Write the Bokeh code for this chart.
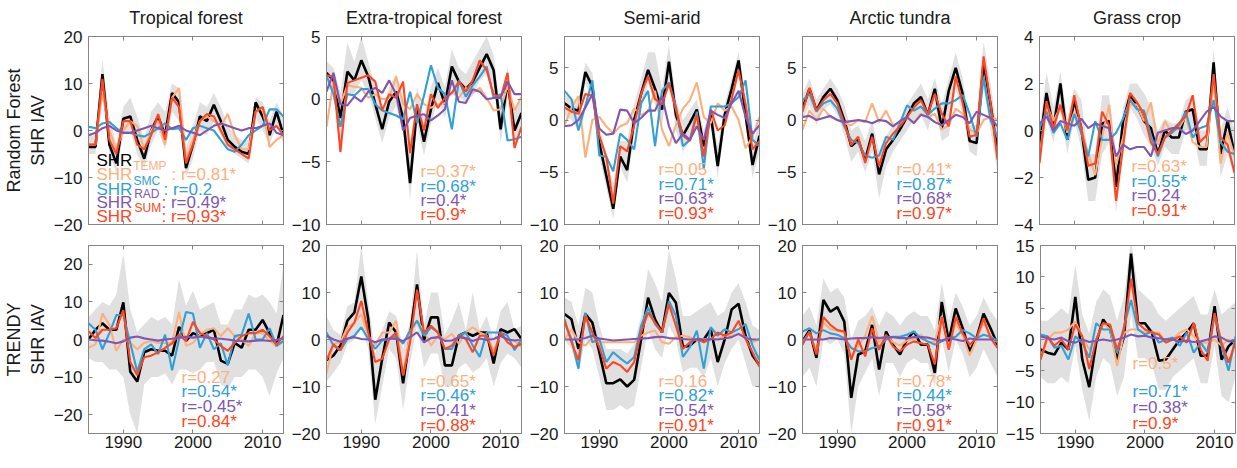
from bokeh.plotting import figure
from bokeh.layouts import row, column
from bokeh.models import LinearAxis, Label, FixedTicker, Range1d, CustomLabelingPolicy
from bokeh.embed import file_html
from bokeh.resources import INLINE

years = list(range(1985, 2014))
titles = ["Tropical forest", "Extra-tropical forest", "Semi-arid", "Arctic tundra", "Grass crop"]
row_labels = ["Random Forest\nSHR IAV", "TRENDY\nSHR IAV"]
x_ticks = [1990, 2000, 2010]

# ---------------- Random Forest row ----------------
rf_trop_shr = [-3.5, -3.5, 12, -3, -7, 2.5, 3, -2, -6, 0, 3, -1, 8, 6, -8, -3, 3, 2, 5.5, 2, -2, -3.5, -4.5, -5, 6, 3, -1, 4, -1]
rf_trop_temp = [-3, -3, 8, 0, -4, 0, 2, 1, -4, 0, 2, -3, 7, 9, -6, -2, 2, 3, 2, 1, 3.5, -1, -4, -4, 4, 5, -3.5, -2, -1]
rf_trop_smc = [0.8, 0.5, 1.5, 1.8, 0.5, -0.5, -0.5, -1, -1.3, -0.5, 0.5, 1.5, 0.3, 0.5, -2, 0.5, 1, 0.5, 0, -2, -4, -4.5, -3, -1, 0, 1, 4.5, 4.5, 3]
rf_trop_rad = [-1, -0.5, 0.5, 1, 0, -0.5, -0.5, 0, 0.5, 1, 0.5, 0, 0.5, 1, 0, -0.5, -1, 0, 1, 1.5, 1, 0.5, 0, 0.5, 0.5, 1, 1.5, -0.5, -1]
rf_trop_sum = [-3, -3, 11, -2, -5, 2, 2, -3, -4, -1, 3.5, -2, 7, 5, -7, -3, 2, 3.5, 3, 0, -3, -4, -5, -6, 4, 5, 0, 1, -1]
rf_trop_hi = [-1, -1, 15, 3, -3, 5, 7, 3, -2, 4, 6, 4, 10, 9, -4, 1, 6, 5, 8, 5, 1, -1, -2, -2, 7, 6, 2, 6, 3]
rf_trop_lo = [-5, -5, 9, -5, -9, -1, 0, -5, -8, -3, 0, -4, 4, 2, -10, -6, 0, -1, 2, -1, -4, -5, -6, -7, 3, 0, -3, 1, -3]

rf_extr_shr = [2.1, 1.5, -1.5, 2.2, 1.5, 3.1, 1.8, -0.4, -2.4, -0.2, 0.6, -1.5, -6.7, -0.7, -3.4, -0.8, 1.3, -0.4, 2.6, 1.4, 0.8, 1.4, 2.5, 3.6, 2.3, -2.4, 1.4, -2.5, -1.1]
rf_extr_temp = [-2.2, 1.4, -0.4, 1.1, 1.0, 0.9, 0.1, 0.4, 0, 0.1, 1.8, -0.4, -0.8, 0.4, -0.4, -0.7, -0.4, -0.3, 0.6, 0.1, 0.9, 0.5, 0.9, 0.1, -0.9, -0.8, 1.1, -0.9, 0.2]
rf_extr_smc = [1.9, 0.4, -2.2, 0.4, 0.3, 0.8, 0.8, -0.4, -0.9, -1.1, -1.3, -1.6, 0.6, -1.9, 0.3, 2.7, 0.9, 0.4, -2.4, 1.5, 0.2, 1.1, 1.8, 2.6, 0.1, 0.4, -3.3, -3.2, -3.0]
rf_extr_rad = [0.6, 2.1, -0.4, -0.5, 0.2, -0.2, 0.6, 0.9, 0.5, 1.5, 0.4, -2.5, -1.5, -1.3, -1.2, -1.7, -1.3, -0.8, 1.5, -0.2, -0.3, 0.8, 0.6, 0, 0.1, 0.1, 1.4, 0.4, 0.4]
rf_extr_sum = [1.9, 1.8, -4.2, 1.3, 1.5, 1.7, 1.9, 1.4, -0.9, 0.4, 0.1, 1.4, -4.3, -0.4, -2.5, 0.4, -0.7, 0.1, 0.5, 1.4, 0.6, 1.5, 3.1, 2.3, 0.4, 0.1, 2.1, -3.9, -2.2]
rf_extr_hi = [3, 2.5, 0.5, 4.5, 3, 5, 3, 1, -1, 1, 2, 0, -4, 1, -1.5, 1, 2.5, 1, 4, 2.5, 2, 3, 4, 5, 3.5, -1, 2.5, -1, 0]
rf_extr_lo = [1, 0.5, -4.5, 0.5, 0.5, 1.5, 0.5, -1.5, -3.5, -1.5, -0.5, -2.5, -8, -2, -4.5, -2, 0, -1.5, 1.5, 0.3, -0.3, 0.3, 1.5, 2, 1, -3.5, 0, -4, -2.5]

rf_semi_shr = [1.6, 1.1, 0.9, 4.6, 3.2, -2.2, -5.3, -8.5, -3.5, -4.8, 0, 2.5, 4.8, 3, 1, 5.6, 0.5, -1.5, -0.3, 1, -2.5, 0.5, -4.4, 0.5, 3, 5.7, 0.5, -4.3, -1.5]
rf_semi_temp = [-0.5, 1.2, 2.3, -3.6, 0, 0.3, -0.6, -1.3, -0.6, -0.3, 1.1, 0.5, 0.8, 2.8, -0.9, -2.5, -0.5, 1.1, 1.9, 3.6, 0.3, -0.3, 1.6, 0.9, 1.3, 0, -2.7, -1.6, 0.3]
rf_semi_smc = [2.8, 2.0, -1.0, 1.4, 3.8, -3.4, -3.5, -4.9, -1.3, -1.9, -2.8, 1.6, 2.8, -2.5, 2.8, 3.6, 1.3, -2.5, -1.9, 0.8, -4.7, 1.3, 1.3, 1.3, 1.6, 2.2, 3.8, -1.9, -2.5]
rf_semi_rad = [-0.6, -0.5, 0, 1.2, 2.5, -0.8, -1.4, -1.3, 1.0, 0.9, -0.3, 0.2, 0.9, 0.9, 2.3, -0.6, -2.2, -1.3, -1.9, -0.6, -1.9, 0.9, 0.5, 0.2, 1.6, 2.8, 0.3, -1.3, -0.5]
rf_semi_sum = [1.2, 0.8, 0.6, 2.5, 2.3, -1.5, -3.5, -8, -2.5, -3, -0.5, 2.5, 4.2, 2, 1.5, 3.5, 1, -1.5, -2, 0.5, -3.5, 1, -1, -0.5, 2, 4.8, 1.5, -2.8, -2]
rf_semi_hi = [2.5, 2, 2, 5.5, 4.5, -0.5, -3.5, -6, -2, -2, 1.5, 4, 6.5, 6.5, 3, 7.2, 2, 0, 1, 2, -1, 1.5, -2.5, 1.5, 4, 6.5, 2.5, -2.5, 0]
rf_semi_lo = [0.5, 0, -1, 3.5, 2, -3.5, -6.5, -9.5, -4.5, -6, -1.5, 1, 3.5, 1.5, -0.5, 4, -1, -3, -2, -0.5, -4.5, -0.5, -5.5, -0.5, 1.5, 4.5, -0.5, -5.5, -3]

rf_tund_shr = [1.1, 3.0, 0.9, 2.2, 3.0, 1.9, 0, -2.5, -1.9, -3.8, -1.3, -5.2, -2.8, -1.9, -0.9, 0.3, 1.6, 2.2, 0.5, 3.0, -0.8, 2.8, 5.0, 2.5, -2.0, -2.2, 5.5, 1.5, -3.0]
rf_tund_temp = [-0.9, 0.9, 0, 1.1, 0.3, 0, -0.3, -0.5, 0, -0.2, 1.6, -0.2, 0.9, -0.5, -0.2, 0.2, -0.2, 0.6, 0.3, 0.6, -0.9, -0.5, 1.1, 0.6, -0.9, -1.3, 0, 0.3, 0]
rf_tund_smc = [1.9, 2.5, 0.8, 1.6, 1.9, 1.1, -0.6, -1.9, -2.2, -3.4, -3.6, -3.4, -1.6, -1.9, -0.3, 1.4, 0.9, 1.3, 0.5, 1.1, 1.6, 1.6, 1.9, 2.4, 0.6, -1.6, 4.1, 0, -1.6]
rf_tund_rad = [0.3, 0.4, 0, 0.2, 0.4, 0, -0.2, -0.1, 0, -0.1, -0.3, 0, -0.1, -0.6, -0.1, 0.3, -0.3, 0.5, 0.3, -0.2, -0.5, 0, 0.5, 0.3, -0.3, 0.8, 0.5, 0.2, -0.6]
rf_tund_sum = [0.8, 3.1, 0.9, 1.9, 2.5, 1.6, -0.3, -2.4, -1.6, -4.1, -1.6, -4.4, -2.2, -1.3, -0.6, 0.3, 1.2, 1.9, 0.6, 2.5, 0.6, -0.6, 4.2, 1.6, -1.6, -1.4, 6.1, 1.6, -3.8]
rf_tund_hi = [2.5, 4, 2, 3, 4, 3, 1.5, -1, -0.5, -2, 0, -3, -1.5, -0.5, 0, 1.5, 2.5, 3.5, 2, 4, 1.5, 4, 6.5, 4, -0.5, -0.5, 7.5, 3.5, -1]
rf_tund_lo = [0, 1.5, -0.5, 1, 1.5, 0.5, -1.5, -4, -3, -5, -3, -7.5, -4.5, -3, -2, -1, 0, 0.5, -1, 1.5, -2, -1.5, 3, 0.5, -3, -3.5, 3, -1, -5]

rf_gras_shr = [-0.7, 1.6, 0.1, 2.0, -0.4, 1.3, 0.1, -2.1, -2.0, 0.3, 0.4, -2.4, 0.4, 1.5, 1.1, 0.4, 0.1, -1.0, 0, -0.3, -0.3, 0.8, 0.9, -0.8, -0.8, 2.9, -1.0, 0.4, -1.0]
rf_gras_temp = [-1.1, 1.1, 0.4, 1.0, -0.1, 0.8, 0.1, -1.0, -1.9, -0.3, 1.1, -1.5, -0.3, 1.1, 1.1, 0.4, 1.2, -0.6, 0.4, -0.1, 0.1, 0.6, -0.5, -0.7, -0.7, 2.1, -1.4, -0.1, -1.1]
rf_gras_smc = [0.1, 0.8, -0.1, 0.3, -0.4, 0.7, -0.1, -1.1, 0.4, -0.4, -0.4, -0.1, 0.5, 1.3, 0.9, 0.85, -0.2, -1.1, -0.3, -0.1, 0.2, 0.8, -0.3, 0.1, 0.2, 1.3, -0.5, -0.9, -1.0]
rf_gras_rad = [0.3, 0.6, 0, 0.4, 0.3, 0.2, 0.5, 0.1, 0.3, 0.2, 0.1, -1.1, -0.6, -0.8, -0.7, -0.7, -1.1, -0.1, 0, 0.1, 0.1, -0.15, 0, 0.4, 0.8, 1.0, 0.6, 0.4, 0.4]
rf_gras_sum = [-1.4, 1.25, 0.1, 1.1, 0, 1.5, 0.1, -1.5, -1.4, 0.8, 0.2, -3.0, -0.7, 1.6, 1.2, 0.7, -0.5, -1.0, -0.3, 0, 0.3, 0.6, 1.5, -0.5, -0.2, 2.4, -0.3, -0.6, -1.8]
rf_gras_hi = [0, 2.5, 1, 2.5, 0.5, 1.8, 1.3, -1, -1, 1.5, 1.5, -1.5, 1, 2, 2, 1.6, 1, 0, 0.5, 0.3, 0.3, 1.3, 1.5, 0, 0, 3.5, 0, 1, 0]
rf_gras_lo = [-1.5, 0.5, -0.5, 1, -1, 0.5, -0.8, -3, -3, -1, -0.5, -3.5, -0.5, 1, 0.5, -0.2, -0.7, -1.5, -0.7, -1, -1, 0, 0, -1.5, -1.5, 2, -2, -1, -2]

# ---------------- TRENDY row ----------------
tr_trop_shr = [0, 2.6, 4.3, 2.6, 2.6, 9.9, -8.6, -11.2, -3.4, -2.6, -3, -3, -4.3, 3.4, -0.4, 1.7, 0.9, 1.7, 2.6, -5.6, -6.5, -0.9, -2.2, 2.6, 2.6, 5.2, 1.7, -1.7, 6.5]
tr_trop_temp = [-2.2, -1.3, 6.9, 3.9, -3, 0, -0.9, -2.6, -0.9, -0.4, -0.9, -0.9, -0.9, 7.3, -1.7, -0.9, 1.3, 2.6, 3, 0.9, 3, 0.9, 0, -1.7, 1.7, 1.7, -0.4, -1.7, 0]
tr_trop_smc = [4.3, 2.6, -2.6, 1.7, 6.5, 6.5, -0.9, -8.6, -2.6, -1.3, -3.9, 1.3, -8.2, 0, 7.3, 6.9, -2.2, 1.7, -2.6, -1, -6.9, 0.9, 1.3, 6.9, 0, 0, 3, -1.7, -0.4]
tr_trop_rad = [0, -0.2, -0.3, -0.6, -1, -0.5, 0.5, 0.8, 0.3, 0, -0.3, 0, 0.2, 0.5, 0.7, 0.5, 0.8, 0.5, 0.3, 0.2, 0, -0.3, -0.4, -0.5, -0.3, -0.2, -0.4, -0.1, 0.3]
tr_trop_sum = [2.2, 0.4, 2.6, 2.6, 3, 7.8, -6, -9.5, -4.7, -4.3, -3.4, -2.2, -1, 1.3, -0.4, 4.7, 1.7, 0.9, 0, -1.7, -3, -0.9, 0.9, 1.7, 1.7, 2.6, 0.9, -1.3, 0.9]
tr_trop_hi = [6, 8, 10, 9, 12, 23, 8, 2, 4, 6, 5, 6, 4, 16, 9, 13, 8, 9, 10, 4, 4, 8, 8, 12, 11, 12, 10, 7, 20]
tr_trop_lo = [-5, -6, -6, -8, -8, -10, -20, -25, -12, -10, -10, -9, -12, -8, -8, -9, -8, -6, -6, -12, -13, -10, -10, -8, -8, -10, -15, -9, -5]

tr_extr_shr = [-4.4, -3.4, -1.3, 4, 5.7, 13.4, 4.3, -12.8, -4.1, 3.6, 1.5, -9.3, 0.8, 11.7, -0.2, 4.7, 4.7, -5.5, -5.5, 0.8, 1.5, 0.8, 1.5, 1.5, -5.1, 2.2, 1.5, 2.2, 0.1]
tr_extr_temp = [-7.2, -0.9, -0.6, 2.6, 3.6, 5.4, 0.8, -1.3, 1.5, 1.5, 4, -7.6, 1.2, 4, 1.9, -1.3, 0.8, 0.1, 1.2, -0.9, 1.5, 2.6, 1.5, 0.8, -2.3, 0.8, 0.1, -0.2, -1.6]
tr_extr_smc = [1.5, -1.3, -2.3, 0.1, 0.8, 2.6, 0.1, -2, -0.2, 0.1, 0.8, -0.9, 1.9, 4, 0.8, 2.6, 1.5, -2, -2, 0.8, 1.5, -1.3, -3.7, 1.5, 1.5, 1.5, 0.8, -2.3, 0.1]
tr_extr_rad = [0.8, 0, -0.5, 0.2, 0.5, 0.1, 0, -0.6, 0, 0.2, 0.1, -0.3, 0.5, 1.5, -0.6, 0.3, 0.5, -0.3, -0.2, 0.5, 0.3, -0.3, 0.2, -0.1, 0.1, 0.8, 0, -0.2, 0]
tr_extr_sum = [-4.4, -1, -2.3, 1.5, 3.6, 8.2, 1.5, -4.8, -4.1, 0.1, 1.5, -7.6, -0.6, 10.6, 1.5, 2.9, 1.5, -2, -1.3, 0.8, 0.1, -2.7, 0.8, 0.8, -3.4, 1.5, -0.6, -1.6, -0.9]
tr_extr_hi = [5, 2, 1, 7, 8, 20, 8, -3, 2, 6, 5, -2, 4, 19, 3, 10, 10, 1, 4, 8, 2, 10, 2, 5, 0, 6, 8, 2, 3]
tr_extr_lo = [-9, -7, -5, -1, 0, 3, -2, -18, -10, -2, -4, -15, -5, 3, -6, -3, -3, -10, -10, -6, -5, -7, -6, -4, -10, -5, -3, -4, -6]

tr_semi_shr = [5.4, 4.3, -2, 5.4, 3.6, -2.7, -9.3, -9.3, -8.5, -10, -8.6, 0, 8.9, 4.3, 1.5, 9.9, 7.8, -1.6, -1.3, 0, 0, 2.2, -4.8, 0, 6.4, 7.6, 0.8, -3.4, -5.5]
tr_semi_temp = [0.1, 2.2, -0.6, -1.3, 0.5, -0.6, -0.6, -0.6, -0.6, -0.6, -0.6, 0.8, 1.5, 1.9, -0.6, -0.9, 0.5, 0.8, 0.5, -0.2, 0.1, 0.1, 0.1, 0.8, 0.8, 1.2, 0.5, -0.6, 0.1]
tr_semi_smc = [3.6, 0.1, -6.2, 5.7, -0.6, 0.1, -4.8, -2.7, -4, -5.1, -3.7, 2.9, 6.8, 3.3, 1.5, 8.2, 5, -3.7, -1.6, 1.9, -6.2, 2.6, 0.8, 2.2, 1.5, 2.2, 3.3, -1.3, -4.4]
tr_semi_rad = [0, 0, 0, 0.3, 0.8, 0.2, 0, -0.2, -0.1, 0, 0.1, 0.2, 0.3, 0.5, 0.6, 0.3, 0.2, 0.1, 0, 0, 0, 0.1, 0, 0.2, 0.5, 1.2, 0.3, 0, 0]
tr_semi_sum = [4.3, -0.6, -4.4, 5, 1.5, -1.6, -6.2, -4.8, -5.5, -6.9, -4.8, 1.5, 5.7, 3.6, 1.5, 7.5, 2.9, -2, -0.6, 0.1, -0.6, 0.1, 1.5, 0.8, 1.5, 4, 0.1, -2.7, -5.8]
tr_semi_hi = [9, 8, 3, 11, 10, 3, -2, -2, -2, -3, -1, 5, 15, 12, 8, 19, 13, 5, 5, 6, 7, 8, 5, 6, 10, 12, 8, 3, 2]
tr_semi_lo = [0, -2, -7, 0, -2, -8, -15, -15, -14, -15, -14, -6, 2, -2, -4, 3, 0, -7, -6, -6, -8, -4, -10, -5, -2, 0, -5, -10, -10]

tr_tund_shr = [-0.4, 2.0, -3.9, 8.4, 5.9, 6.9, 3.8, -12.4, -3.2, -2.5, 3.1, -6.4, 1.7, -1.1, -3.2, 0, 1.7, -1.1, -1.1, -7.1, 8.0, -0.4, 6.6, 2.4, -2.5, 0.3, 5.5, 2.4, -1.1]
tr_tund_temp = [-0.6, 1.5, -2.7, 3.6, 2.2, 1.9, 1.5, -4, -1.3, 0.8, 5, -0.6, 0.8, -0.6, -1.3, -0.2, 0.1, 1, -0.6, -0.5, 5, -2, 3.6, 0.8, -3.4, 0, 3.6, 0.8, -0.6]
tr_tund_smc = [1.7, 2.4, 1.3, 2.0, 1.3, 1.0, 0.3, -1.8, -2.5, -2.5, -1.8, -1.5, 0, 0.6, 0.6, 1.0, 1.7, 0.3, -0.4, -1.1, -0.4, 0.3, 0.6, 2.0, 1.3, 0.3, 1.0, 0.6, -0.4]
tr_tund_rad = [0, 0, 0, 0, 0.3, 0.2, 0, 0.2, 0.3, 0.3, 0.5, 0.3, 0.5, 0.5, 0.3, 0.3, 0.5, 0.5, 0.4, 0, -0.2, 0.3, 0, -0.3, 0.2, 0, 0, 0, 0]
tr_tund_sum = [-1.1, 1.7, -3.2, 4.8, 3.1, 2.0, 1.7, -4.3, 0, -3.6, 2.4, -2.2, 1, -1.5, -2.5, -1.1, -0.4, -0.8, -1.1, -5.3, 4.8, -2.2, 4.8, 1.3, -1.1, 0.3, 4.5, 0.3, -1.8]
tr_tund_hi = [5, 7, 3, 13, 10, 11, 9, 0, 4, 5, 7, 3, 6, 5, 3, 5, 6, 5, 5, 2, 12, 4, 10, 7, 3, 5, 9, 6, 4]
tr_tund_lo = [-8, -6, -10, 0, -1, 0, -3, -20, -10, -7, -4, -12, -5, -5, -8, -5, -4, -5, -5, -10, 0, -7, 0, -3, -8, -6, -2, -5, -8]

tr_gras_shr = [-1.6, -2.1, -2.4, -0.5, -1.6, 6.8, -3.2, -7.6, -0.5, 3.2, 1.6, -3.2, 0.5, 13.7, 2.6, 2.6, 1.1, -3.4, -3.2, -1.6, 0, 1.1, 2.6, -2.6, -2.6, 5.3, -3.2, -1.1, 0]
tr_gras_temp = [-3.2, 0, 1.1, 1.1, 1.6, 2.9, 0.5, -1.6, 0, 2.6, 1.6, -4.2, 1.1, 1.6, 1.6, 1.1, 1.1, 1.1, -0.5, 0, 1.1, 1.6, 0.5, -0.5, -0.5, 0, -1, 0, -0.5]
tr_gras_smc = [0.8, 0.5, -1.3, -1, -3.2, 0.5, -0.5, -2.9, 2.6, 1.6, 1.6, -2.1, 2.1, 6.3, 1.6, 0.8, 1.3, -0.5, 0, 0.3, -1, 1.1, -2.1, -0.5, -2.1, 3.9, -1, -5, 0.5]
tr_gras_rad = [0.5, 0.2, 0, 0.3, -0.3, -0.5, 0, -0.4, -0.2, 0, -0.2, 0, 0.3, 0.8, 0.5, 0.6, 0.3, 0.2, 0, 0, -0.3, -0.2, -0.4, -0.3, 0, 0.5, 0.3, -0.3, -0.2]
tr_gras_sum = [-3.2, 0.5, -1, 0, -1.6, 2.4, 0.5, -4.7, 0, 2.6, 2.4, -1.6, 1.6, 9.7, 2.6, 1.6, 1.1, 0.8, -0.5, 0, 0.5, -0.5, 2.6, -1.6, -3.4, 4.2, -0.5, -3.7, -0.5]
tr_gras_hi = [3, 3, 4, 5, 4, 12, 4, 1, 6, 8, 7, 3, 7, 16, 8, 7, 6, 4, 3, 4, 5, 6, 7, 4, 4, 8, 4, 5, 6]
tr_gras_lo = [-6, -7, -7, -6, -7, -1, -8, -13, -6, -3, -4, -9, -6, 4, -3, -3, -4, -8, -8, -6, -5, -4, -3, -7, -7, -1, -9, -10, -6]

# axis limits / ticks
rf_ylims = [(-20, 20), (-10, 5), (-10, 8), (-10, 8), (-4, 4)]
rf_yticks = [[-20, -10, 0, 10, 20], [-10, -5, 0, 5], [-10, -5, 0, 5], [-10, -5, 0, 5], [-4, -2, 0, 2, 4]]
tr_ylims = [(-25, 25), (-20, 20), (-20, 20), (-20, 20), (-15, 15)]
tr_yticks = [[-20, -10, 0, 10, 20], [-20, -10, 0, 10, 20], [-20, -10, 0, 10, 20], [-20, -10, 0, 10, 20], [-15, -10, -5, 0, 5, 10, 15]]

# correlation labels (TEMP, SMC, RAD, SUM)
rf_r = [["0.81*", "0.2", "0.49*", "0.93*"],
        ["0.37*", "0.68*", "0.4*", "0.9*"],
        ["0.05", "0.71*", "0.63*", "0.93*"],
        ["0.41*", "0.87*", "0.68*", "0.97*"],
        ["0.63*", "0.55*", "0.24", "0.91*"]]
tr_r = [["0.27", "0.54*", "-0.45*", "0.84*"],
        ["0.65*", "0.46*", "0.41*", "0.88*"],
        ["0.16", "0.82*", "0.54*", "0.91*"],
        ["0.78*", "0.44*", "0.58*", "0.91*"],
        ["0.5*", "0.71*", "0.38*", "0.9*"]]
drivers = ["TEMP", "SMC", "RAD", "SUM"]

rf_series = [
    (rf_trop_shr, rf_trop_temp, rf_trop_smc, rf_trop_rad, rf_trop_sum, rf_trop_lo, rf_trop_hi),
    (rf_extr_shr, rf_extr_temp, rf_extr_smc, rf_extr_rad, rf_extr_sum, rf_extr_lo, rf_extr_hi),
    (rf_semi_shr, rf_semi_temp, rf_semi_smc, rf_semi_rad, rf_semi_sum, rf_semi_lo, rf_semi_hi),
    (rf_tund_shr, rf_tund_temp, rf_tund_smc, rf_tund_rad, rf_tund_sum, rf_tund_lo, rf_tund_hi),
    (rf_gras_shr, rf_gras_temp, rf_gras_smc, rf_gras_rad, rf_gras_sum, rf_gras_lo, rf_gras_hi),
]
tr_series = [
    (tr_trop_shr, tr_trop_temp, tr_trop_smc, tr_trop_rad, tr_trop_sum, tr_trop_lo, tr_trop_hi),
    (tr_extr_shr, tr_extr_temp, tr_extr_smc, tr_extr_rad, tr_extr_sum, tr_extr_lo, tr_extr_hi),
    (tr_semi_shr, tr_semi_temp, tr_semi_smc, tr_semi_rad, tr_semi_sum, tr_semi_lo, tr_semi_hi),
    (tr_tund_shr, tr_tund_temp, tr_tund_smc, tr_tund_rad, tr_tund_sum, tr_tund_lo, tr_tund_hi),
    (tr_gras_shr, tr_gras_temp, tr_gras_smc, tr_gras_rad, tr_gras_sum, tr_gras_lo, tr_gras_hi),
]

# ---------------- style / layout ----------------
FONT = "Liberation Sans"
C_SHR = "#000000"
C_TEMP = "#FDB07D"
C_SMC = "#31A0D5"
C_RAD = "#7F57B3"
C_SUM = "#FF4522"
C_BAND = "#E0E0E0"
C_AX = "#858585"
C_TXT = "#1a1a1a"
driver_colors = [C_TEMP, C_SMC, C_RAD, C_SUM]

FW, FH = 195, 188
REF_FH = [191, 190]
LEG_X = [[8, 94, 94, 94, 92], [93, 94, 94, 94, 92]]
LEG_BASE = [[None, [137, 152, 167, 181], [135, 150, 165, 180], [135, 150, 165, 180], [132, 147, 162, 177]],
            [[133, 148, 163, 178], [137, 152, 167, 182], [137, 152, 167, 182], [137, 152, 167, 182], [119, 148, 164, 180]]]
# special legend of the first panel
P1_BASE = [126, 140.5, 155.5, 169, 183]
P1_SUP_X = [44.7, 45, 45.7, 46]
P1_COLON_X = [83, 75, 73, 73]
SUP_RAISE = 9

# hides the tick labels of mirrored / unlabeled axes (keeps the tick marks)
NO_LABELS = """
const n = indices.size
for (let i = 0; i < n; i++) { indices.unset(i) }
return indices
"""


def add_text(p, ylim, fh_ref, xpx, base_px, text, color, size="17px"):
    y = ylim[1] - base_px / fh_ref * (ylim[1] - ylim[0])
    p.add_layout(Label(x=1985, y=y, x_offset=xpx, text=text, text_color=color,
                       text_font=FONT, text_font_size=size,
                       text_baseline="alphabetic", text_align="left"))


def hide_labels(ax):
    ax.major_label_policy = CustomLabelingPolicy(code=NO_LABELS)
    ax.major_label_text_font_size = "1px"
    ax.major_label_standoff = 0


def make_panel(ri, ci, series, ylim, yticks, rtexts):
    first = ci == 0
    p = figure(frame_width=FW, frame_height=FH,
               x_range=Range1d(1985, 2013), y_range=Range1d(*ylim),
               output_backend="svg", toolbar_location=None,
               min_border_left=78 if first else 37, min_border_right=4,
               min_border_top=32 if ri == 0 else 11,
               min_border_bottom=10 if ri == 0 else 23)
    p.background_fill_color = "white"
    p.border_fill_color = "white"
    p.outline_line_color = C_AX
    p.xgrid.visible = False
    p.ygrid.visible = False

    shr, temp, smc, rad, ssum, lo, hi = series
    p.varea(x=years, y1=lo, y2=hi, fill_color=C_BAND)
    p.line(years, shr, line_color=C_SHR, line_width=2.6)
    p.line(years, temp, line_color=C_TEMP, line_width=2.1)
    p.line(years, smc, line_color=C_SMC, line_width=2.1)
    p.line(years, ssum, line_color=C_SUM, line_width=2.1)
    p.line(years, rad, line_color=C_RAD, line_width=2.1)

    for ax in (p.xaxis[0], p.yaxis[0]):
        ax.axis_line_color = C_AX
        ax.major_tick_line_color = C_AX
        ax.major_tick_in = 4
        ax.major_tick_out = 0
        ax.minor_tick_line_color = None
        ax.major_label_text_font = FONT
        ax.major_label_text_font_size = "17px"
        ax.major_label_text_color = C_TXT
    p.xaxis[0].ticker = FixedTicker(ticks=x_ticks)
    p.yaxis[0].ticker = FixedTicker(ticks=yticks)
    p.yaxis[0].major_label_standoff = 6
    p.xaxis[0].major_label_standoff = 2
    if ri == 0:
        hide_labels(p.xaxis[0])

    # mirrored ticks on top and right (box on)
    top = LinearAxis(ticker=FixedTicker(ticks=x_ticks))
    right = LinearAxis(ticker=FixedTicker(ticks=yticks))
    for ax in (top, right):
        ax.axis_line_color = C_AX
        ax.major_tick_line_color = C_AX
        ax.major_tick_in = 4
        ax.major_tick_out = 0
        ax.minor_tick_line_color = None
        hide_labels(ax)
    p.add_layout(top, "above")
    p.add_layout(right, "right")

    if first:
        p.yaxis[0].axis_label = row_labels[ri]
        p.yaxis[0].axis_label_text_font = FONT
        p.yaxis[0].axis_label_text_font_size = "18px"
        p.yaxis[0].axis_label_text_font_style = "normal"
        p.yaxis[0].axis_label_text_color = C_TXT
        p.yaxis[0].axis_label_standoff = 3

    if ri == 0:
        p.title.text = titles[ci]
        p.title.align = "center"
        p.title.text_font = FONT
        p.title.text_font_size = "18px"
        p.title.text_font_style = "normal"
        p.title.text_color = C_TXT

    fh_ref = REF_FH[ri]
    if ri == 0 and ci == 0:
        add_text(p, ylim, fh_ref, 8, P1_BASE[0], "SHR", C_SHR)
        for k in range(4):
            b = P1_BASE[k + 1]
            add_text(p, ylim, fh_ref, 8, b, "SHR", driver_colors[k])
            add_text(p, ylim, fh_ref, P1_SUP_X[k], b - SUP_RAISE, drivers[k], driver_colors[k], "12px")
            add_text(p, ylim, fh_ref, P1_COLON_X[k], b, ": r=" + rtexts[k], driver_colors[k])
    else:
        xs = LEG_X[ri][ci]
        for k in range(4):
            add_text(p, ylim, fh_ref, xs, LEG_BASE[ri][ci][k], "r=" + rtexts[k], driver_colors[k])
    return p


top_row = [make_panel(0, i, rf_series[i], rf_ylims[i], rf_yticks[i], rf_r[i]) for i in range(5)]
bot_row = [make_panel(1, i, tr_series[i], tr_ylims[i], tr_yticks[i], tr_r[i]) for i in range(5)]

layout = column(row(*top_row, spacing=0), row(*bot_row, spacing=0), spacing=0)
open("out.html", "w").write(file_html(layout, INLINE))
